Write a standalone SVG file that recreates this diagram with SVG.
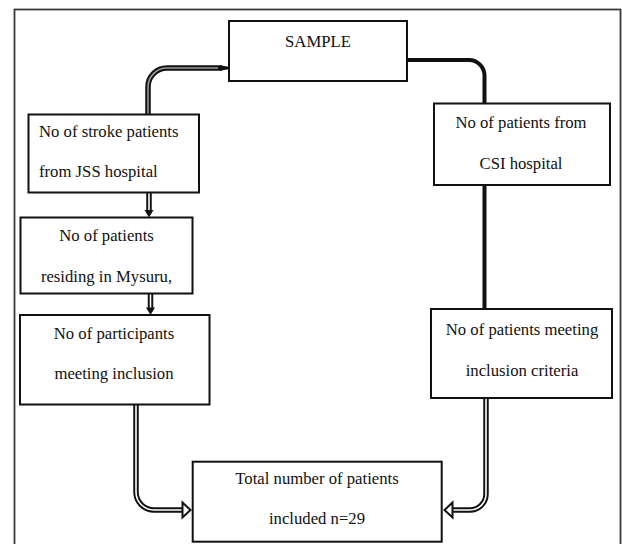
<svg xmlns="http://www.w3.org/2000/svg" width="622" height="544" viewBox="0 0 622 544">
<defs>
<style>
.frame{fill:#fff;stroke:#3a3a3a;stroke-width:1.8}
.box{fill:#fff;stroke:#111;stroke-width:2}
.t{font-family:"Liberation Serif","Times New Roman",serif;font-size:16.7px;fill:#111}
.c{text-anchor:middle}
.dbl-o{fill:none;stroke:#111;stroke-width:5.5}
.dbl-i{fill:none;stroke:#fff;stroke-width:1.6}
.dbl-g{fill:none;stroke:#999;stroke-width:1.6}
.solid{fill:none;stroke:#111;stroke-width:4}
.head{fill:#fff;stroke:#111;stroke-width:2;stroke-linejoin:miter}
.tip{fill:#111}
</style>
</defs>
<rect class="frame" x="14.5" y="9.5" width="606" height="560"/>
<g id="connectors">
<path class="dbl-o" d="M222 68 H167 A19 19 0 0 0 148 87 V114"/>
<polygon class="tip" points="220,65.2 230,67 230,69 220,70.8"/>
<path class="dbl-g" d="M218 68 H167 A19 19 0 0 0 148 87 V114"/>
<path class="solid" d="M407 60 H469 A15.5 15.5 0 0 1 484.5 75.5 V103"/>
<path class="dbl-o" d="M149 193 V212"/>
<path class="dbl-i" d="M149 193 V211"/>
<polygon class="tip" points="144.5,210 153.5,210 149,217.5"/>
<path class="dbl-o" d="M150.5 294 V309"/>
<path class="dbl-i" d="M150.5 294 V308"/>
<polygon class="tip" points="146,307.5 155,307.5 150.5,315"/>
<path class="solid" d="M484.5 185 V309"/>
<path class="dbl-o" d="M136 405 V492 A18 18 0 0 0 154 510 H183"/>
<path class="dbl-i" d="M136 405 V492 A18 18 0 0 0 154 510 H183"/>
<polygon class="head" points="182.5,502.5 190.5,510 182.5,517.5"/>
<path class="dbl-o" d="M486 398 V494 A16 16 0 0 1 470 510 H452"/>
<path class="dbl-i" d="M486 398 V494 A16 16 0 0 1 470 510 H452"/>
<polygon class="head" points="452.5,502.5 444.5,510 452.5,517.5"/>
</g>
<g id="sample">
<rect class="box" x="229" y="21" width="178" height="60"/>
<text class="t c" x="318" y="47">SAMPLE</text>
</g>
<g id="jss">
<rect class="box" x="28.5" y="114.5" width="170.5" height="78"/>
<text class="t" x="39" y="137">No of stroke patients</text>
<text class="t" x="39" y="177">from JSS hospital</text>
</g>
<g id="mysuru">
<rect class="box" x="20.5" y="217.5" width="172" height="76"/>
<text class="t c" x="106.5" y="241">No of patients</text>
<text class="t c" x="106.5" y="282">residing in Mysuru,</text>
</g>
<g id="participants">
<rect class="box" x="20" y="315" width="189.5" height="89.5"/>
<text class="t c" x="114" y="339">No of participants</text>
<text class="t c" x="114" y="379">meeting inclusion</text>
</g>
<g id="csi">
<rect class="box" x="434" y="103.5" width="176" height="81.5"/>
<text class="t c" x="521" y="128">No of patients from</text>
<text class="t c" x="521" y="169">CSI hospital</text>
</g>
<g id="criteria">
<rect class="box" x="431" y="309" width="181" height="89"/>
<text class="t c" x="522" y="335">No of patients meeting</text>
<text class="t c" x="522" y="376">inclusion criteria</text>
</g>
<g id="total">
<rect class="box" x="192.7" y="461.7" width="249" height="80"/>
<text class="t c" x="317" y="484">Total number of patients</text>
<text class="t c" x="317" y="524">included n=29</text>
</g>
</svg>
